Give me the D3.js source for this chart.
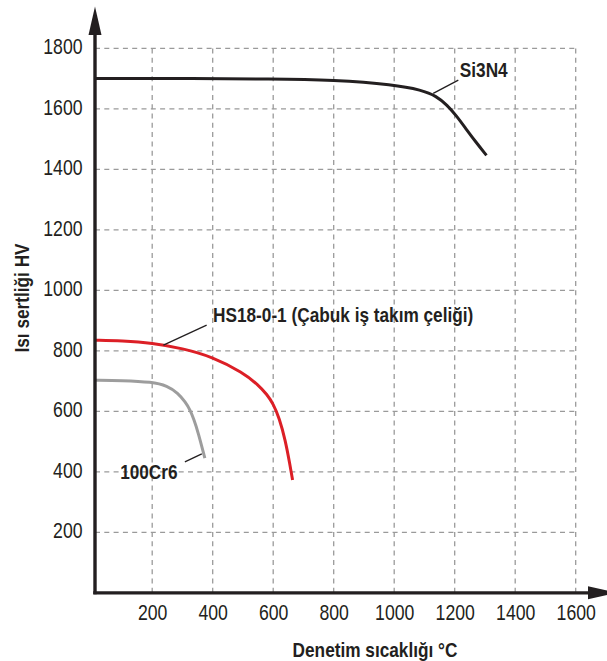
<!DOCTYPE html>
<html>
<head>
<meta charset="utf-8">
<script src="https://cdn.jsdelivr.net/npm/d3@7"></script>
<style>
  body { margin: 0; background: #fff; }
  svg { display: block; font-family: "Liberation Sans", Arial, sans-serif; }
</style>
</head>
<body>
<svg id="chart" width="607" height="661"></svg>
<script>
// ticks
let xTicks = [200, 400, 600, 800, 1000, 1200, 1400, 1600];
let yTicks = [200, 400, 600, 800, 1000, 1200, 1400, 1600, 1800];

// temperature (°C) and hardness (HV)
let si3n4 = [[10, 1700], [300, 1700], [600, 1699], [800, 1695], [1000, 1680], [1090, 1662],
  [1140, 1642], [1175, 1612], [1205, 1578], [1240, 1530], [1270, 1490], [1305, 1446]];
let hs18 = [[10, 835], [100, 833], [200, 826], [300, 808], [400, 780], [500, 728], [550, 688],
  [580, 655], [600, 625], [620, 578], [640, 505], [655, 425], [664, 373]];
let cr6 = [[10, 703], [100, 702], [200, 697], [250, 684], [285, 660], [310, 630], [325, 605],
  [338, 573], [352, 530], [374, 445]];

let seriesNames = ['Si3N4', 'HS18-0-1 (Çabuk iş takım çeliği)', '100Cr6'];
// leader line start/end and label anchor, in data units
let leaders = [
  { from: [1129, 1651], to: [1212, 1695], label: [1217, 1704] },
  { from: [237, 819], to: [380, 885], label: [401, 895] },
  { from: [308, 433], to: [364, 459], label: [94, 376] }
];

let svg = d3.select('#chart');
let ink = '#231f20';

let x = d3.scaleLinear().domain([0, 1600]).range([91.7, 575.7]);
let y = d3.scaleLinear().domain([0, 1800]).range([592.8, 48.3]);
let axisX = x(0) + 3.3;

// squeeze Liberation Sans into a narrow face
function narrow(sel) {
  sel.each(function() {
    let w = this.getComputedTextLength();
    d3.select(this).attr('textLength', w * 0.82).attr('lengthAdjust', 'spacingAndGlyphs');
  });
}

// grid
let grid = svg.append('g')
  .attr('stroke', '#9a9a9a')
  .attr('stroke-width', 1.3)
  .attr('stroke-dasharray', '5,4.3');

grid.selectAll('.gx')
  .data(xTicks).enter()
  .append('line')
  .attr('x1', d => x(d)).attr('x2', d => x(d))
  .attr('y1', y(0)).attr('y2', y(1800));

grid.selectAll('.gy')
  .data(yTicks).enter()
  .append('line')
  .attr('x1', axisX).attr('x2', x(1600))
  .attr('y1', d => y(d)).attr('y2', d => y(d));

// tick labels
let yAxis = svg.append('g')
  .attr('transform', 'translate(' + axisX + ',0)')
  .call(d3.axisLeft(y).tickValues(yTicks).tickFormat(d3.format('d')).tickSize(0).tickPadding(12.5));
let xAxis = svg.append('g')
  .attr('transform', 'translate(0,' + y(0) + ')')
  .call(d3.axisBottom(x).tickValues(xTicks).tickFormat(d3.format('d')).tickSize(0).tickPadding(12.3));

[xAxis, yAxis].forEach(a => {
  a.select('.domain').remove();
  a.selectAll('text')
    .attr('font-size', 21.5)
    .attr('font-family', '"Liberation Sans", Arial, sans-serif')
    .attr('fill', ink);
});
yAxis.selectAll('text').attr('dy', '0.25em');
narrow(xAxis.selectAll('text'));
narrow(yAxis.selectAll('text'));

// curves
let line = d3.line()
  .x(d => x(d[0]))
  .y(d => y(d[1]))
  .curve(d3.curveBasis);

let curves = [
  { data: si3n4, color: ink },
  { data: hs18, color: '#dc1f26' },
  { data: cr6, color: '#9d9d9d' }
];

svg.selectAll('.curve')
  .data(curves).enter()
  .append('path')
  .attr('class', 'curve')
  .attr('d', d => line(d.data))
  .attr('fill', 'none')
  .attr('stroke', d => d.color)
  .attr('stroke-width', 3);

// axes with arrows
let axes = svg.append('g').attr('fill', ink);
axes.append('line')
  .attr('x1', axisX).attr('x2', axisX)
  .attr('y1', y(0) + 1.5).attr('y2', 35)
  .attr('stroke', ink).attr('stroke-width', 3.4);
axes.append('path')
  .attr('d', 'M' + axisX + ',6.5 L' + (axisX - 6.5) + ',35 L' + (axisX + 6.5) + ',35 Z');
axes.append('line')
  .attr('x1', axisX - 1.7).attr('x2', 589)
  .attr('y1', y(0)).attr('y2', y(0))
  .attr('stroke', ink).attr('stroke-width', 3.2);
axes.append('path')
  .attr('d', 'M617,' + y(0) + ' L588,' + (y(0) - 6.5) + ' L588,' + (y(0) + 6.5) + ' Z');

// leaders and series labels
svg.selectAll('.leader')
  .data(leaders).enter()
  .append('line')
  .attr('x1', d => x(d.from[0])).attr('y1', d => y(d.from[1]))
  .attr('x2', d => x(d.to[0])).attr('y2', d => y(d.to[1]))
  .attr('stroke', ink)
  .attr('stroke-width', 1.3);

let labels = svg.selectAll('.label')
  .data(leaders).enter()
  .append('text')
  .attr('x', d => x(d.label[0]))
  .attr('y', d => y(d.label[1]))
  .attr('font-size', 21)
  .attr('font-weight', 'bold')
  .attr('fill', ink)
  .text((d, i) => seriesNames[i]);
narrow(labels);

// axis titles
let xTitle = svg.append('text')
  .attr('x', 375)
  .attr('y', 656.5)
  .attr('text-anchor', 'middle')
  .attr('font-size', 21)
  .attr('font-weight', 'bold')
  .attr('fill', ink)
  .text('Denetim sıcaklığı °C');
narrow(xTitle);

let yTitle = svg.append('text')
  .attr('transform', 'translate(28.5,298) rotate(-90)')
  .attr('text-anchor', 'middle')
  .attr('font-size', 21)
  .attr('font-weight', 'bold')
  .attr('fill', ink)
  .text('Isı sertliği HV');
narrow(yTitle);
</script>
</body>
</html>
